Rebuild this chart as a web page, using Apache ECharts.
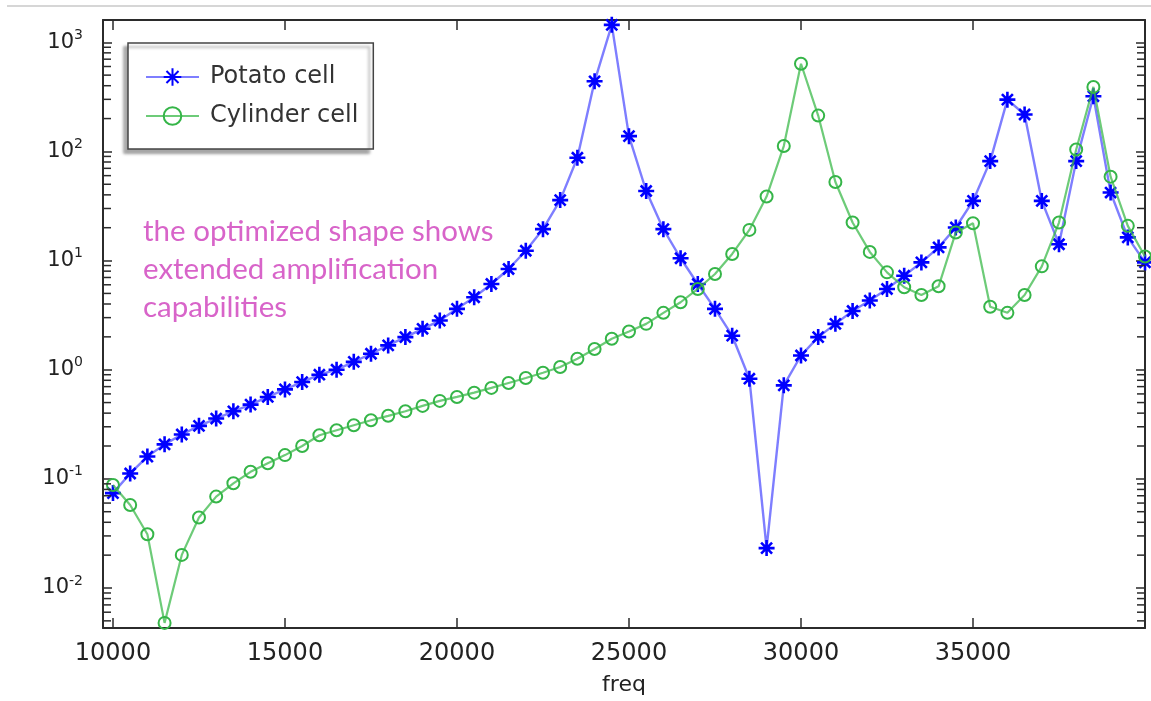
<!DOCTYPE html>
<html><head><meta charset="utf-8">
<script src="https://cdn.jsdelivr.net/npm/echarts@6/dist/echarts.min.js"></script>
<style>html,body{margin:0;padding:0;background:#fff}#c{width:1151px;height:701px}</style>
</head><body><div id="c"></div>
<script>
// ---- data ----
const freq = [10000,10500,11000,11500,12000,12500,13000,13500,14000,14500,
  15000,15500,16000,16500,17000,17500,18000,18500,19000,19500,
  20000,20500,21000,21500,22000,22500,23000,23500,24000,24500,
  25000,25500,26000,26500,27000,27500,28000,28500,29000,29500,
  30000,30500,31000,31500,32000,32500,33000,33500,34000,34500,
  35000,35500,36000,36500,37000,37500,38000,38500,39000,39500,40000];
const potato = [0.074,0.112,0.160,0.207,0.255,0.306,0.357,0.416,0.479,0.563,
  0.66,0.771,0.90,1.0,1.18,1.40,1.67,1.99,2.37,2.82,
  3.61,4.61,6.10,8.37,12.3,19.4,35.8,87.6,439,1445,
  138,43.4,19.4,10.5,6.1,3.61,2.05,0.827,0.0232,0.719,
  1.35,1.99,2.63,3.45,4.30,5.49,7.26,9.62,13.2,20.1,
  35.2,81.5,298,218,35.2,14.1,81.5,320,42,16.3,9.62];
const cylinder = [0.0878,0.0576,0.0311,0.00479,0.0201,0.0442,0.0688,0.091,0.116,0.139,
  0.165,0.200,0.251,0.279,0.310,0.344,0.378,0.416,0.466,0.518,
  0.563,0.616,0.681,0.756,0.840,0.939,1.06,1.26,1.55,1.92,
  2.24,2.63,3.32,4.15,5.49,7.53,11.5,19.1,38.6,112,
  636,213,52.5,22.3,12.0,7.80,5.69,4.84,5.81,18.1,
  22.0,3.78,3.32,4.84,8.85,22.3,104,390,58.7,20.8,10.9];
const seriesNames = ['Potato cell', 'Cylinder cell'];
const xAxisName = 'freq';
const annotation = ['the optimized shape shows', 'extended amplification', 'capabilities'];
const minorMultipliers = [2,3,4,5,6,7,8,9];

// ---- axis ranges ----
const X_MIN = 9710, X_MAX = 40000, X_STEP = 5000;
const Y_MIN = 0.0043, Y_MAX = 1600;
const AXIS_COLOR = '#2b2b2b';
const TICK = 8;

const minorVals = [];
for (let e = -3; e <= 3; e++) {
  minorMultipliers.forEach(k => {
    const v = k * Math.pow(10, e);
    if (v > Y_MIN && v < Y_MAX) minorVals.push(v);
  });
}

const chart = echarts.init(document.getElementById('c'), null, {renderer: 'canvas'});

const xBase = {
  type: 'value', min: X_MIN, max: X_MAX, minInterval: X_STEP, maxInterval: X_STEP,
  axisLine: {show: true, onZero: false, lineStyle: {color: AXIS_COLOR, width: 2}},
  axisTick: {show: true, inside: true, length: 10, lineStyle: {color: AXIS_COLOR, width: 1.5}},
  splitLine: {show: false}
};
const yBase = {
  type: 'log', logBase: 10, min: Y_MIN, max: Y_MAX,
  axisLine: {show: true, onZero: false, lineStyle: {color: AXIS_COLOR, width: 2}},
  axisTick: {show: true, inside: true, length: 9, lineStyle: {color: AXIS_COLOR, width: 1.5}},
  splitLine: {show: false}
};

const star = 'path://M0,7L14,7M7,0L7,14M2.2,2.2L11.8,11.8M11.8,2.2L2.2,11.8';

const option = {
  animation: false,
  backgroundColor: '#fff',
  grid: {left: 103, right: 6, top: 20, bottom: 69, containLabel: false},
  legend: {
    data: seriesNames,
    orient: 'vertical', left: 128, top: 43,
    padding: [22, 15, 21, 17],
    itemWidth: 53, itemHeight: 22, itemGap: 15,
    textStyle: {fontFamily: 'DejaVu Sans', fontSize: 24, color: '#333', padding: [0, 0, 0, 6]},
    borderColor: '#444', borderWidth: 1.5, backgroundColor: '#fff',
    shadowColor: 'rgba(0,0,0,0.35)', shadowBlur: 3, shadowOffsetX: -4, shadowOffsetY: 4
  },
  xAxis: [
    Object.assign({}, xBase, {
      position: 'bottom',
      axisLabel: {showMinLabel: false, showMaxLabel: false, margin: 14, fontSize: 24,
        fontFamily: 'DejaVu Sans', color: '#222', formatter: v => String(Math.round(v))},
      name: xAxisName, nameLocation: 'middle', nameGap: 46,
      nameTextStyle: {fontSize: 22, fontFamily: 'DejaVu Sans', color: '#222'}
    }),
    Object.assign({}, xBase, {position: 'top', axisLabel: {show: false}})
  ],
  yAxis: [
    Object.assign({}, yBase, {
      position: 'left',
      axisLabel: {
        showMinLabel: false, showMaxLabel: false, margin: 20,
        formatter: function (v) {
          const e = Math.round(Math.log10(v));
          if (Math.abs(v / Math.pow(10, e) - 1) > 1e-6) return '';
          return '{b|10}{s|' + e + '}';
        },
        rich: {
          b: {fontSize: 21, fontFamily: 'DejaVu Sans', color: '#222'},
          s: {fontSize: 14, fontFamily: 'DejaVu Sans', color: '#222', padding: [0, 0, 14, 0]}
        }
      }
    }),
    Object.assign({}, yBase, {position: 'right', axisLabel: {show: false}})
  ],
  graphic: [
    {type: 'line', shape: {x1: 7, y1: 6, x2: 1151, y2: 6}, style: {stroke: '#d6d6d6', lineWidth: 2}, silent: true},
    {type: 'text', left: 143, top: 212, silent: true,
      style: {text: annotation.join('\n'), fontFamily: 'Lato', fontSize: 29.5, lineHeight: 38, fill: '#d864c9'}}
  ],
  series: [
    {
      name: seriesNames[0], type: 'line', xAxisIndex: 0, yAxisIndex: 0, z: 3,
      data: freq.map((f, i) => [f, potato[i]]),
      symbol: star, symbolSize: 16,
      itemStyle: {color: '#0000ff', borderColor: '#0000ff', borderWidth: 2.6},
      lineStyle: {color: 'rgba(40,40,255,0.6)', width: 2.4}
    },
    {
      name: seriesNames[1], type: 'line', xAxisIndex: 0, yAxisIndex: 0, z: 4,
      data: freq.map((f, i) => [f, cylinder[i]]),
      symbol: 'circle', symbolSize: 12,
      itemStyle: {color: 'rgba(255,255,255,0)', borderColor: '#35b548', borderWidth: 2},
      lineStyle: {color: 'rgba(60,185,75,0.75)', width: 2.2}
    },
    {
      name: 'minor-ticks', type: 'custom', xAxisIndex: 0, yAxisIndex: 0, silent: true, z: 5,
      clip: false,
      data: minorVals.map(v => [X_MIN, v]),
      renderItem: function (params, api) {
        const v = api.value(1);
        const l = api.coord([X_MIN, v]);
        const r = api.coord([X_MAX, v]);
        const st = {stroke: AXIS_COLOR, lineWidth: 1.5};
        return {type: 'group', children: [
          {type: 'line', shape: {x1: l[0], y1: l[1], x2: l[0] + TICK, y2: l[1]}, style: st},
          {type: 'line', shape: {x1: r[0], y1: r[1], x2: r[0] - TICK, y2: r[1]}, style: st}
        ]};
      }
    }
  ]
};
chart.setOption(option);
</script>
</body></html>
